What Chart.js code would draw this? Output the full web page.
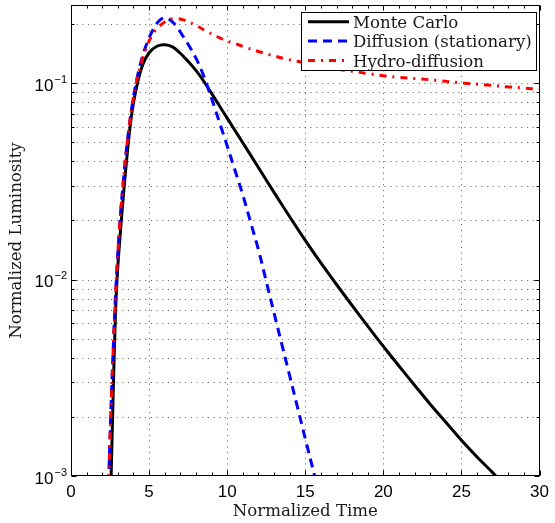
<!DOCTYPE html>
<html>
<head>
<meta charset="utf-8">
<script src="https://cdn.jsdelivr.net/npm/chart.js@4.4.1/dist/chart.umd.min.js"></script>
<style>
html,body{margin:0;padding:0;background:#fff;}
canvas{display:block;}
</style>
</head>
<body>
<canvas id="c" width="555" height="523" style="width:555px;height:523px"></canvas>
<script>
// ---------------- data ----------------
const seriesLabels = ['Monte Carlo', 'Diffusion (stationary)', 'Hydro-diffusion'];

const mcTime = [2.45, 2.57, 2.7, 2.85, 3.0, 3.2, 3.4, 3.6, 3.8, 4.0, 4.3, 4.6, 5.0, 5.5, 6.0, 6.5, 7.0, 7.5, 8.0, 8.5, 9.0, 9.5, 10.0, 10.5, 11.0, 12.0, 13.0, 14.0, 15.0, 16.0, 17.0, 18.0, 19.0, 20.0, 21.0, 22.0, 23.0, 24.0, 25.0, 26.0, 27.0, 27.6];
const mcLum  = [0.00045, 0.001, 0.0026, 0.0068, 0.0117, 0.019, 0.0295, 0.0437, 0.0617, 0.0794, 0.1035, 0.1245, 0.1429, 0.1542, 0.157, 0.1531, 0.142, 0.129, 0.1161, 0.1023, 0.0887, 0.0767, 0.0664, 0.0574, 0.0497, 0.0372, 0.0278, 0.0209, 0.01585, 0.01216, 0.00944, 0.00738, 0.00579, 0.00457, 0.00363, 0.0029, 0.00232, 0.00188, 0.00152, 0.00125, 0.00104, 0.00092];

const diffTime = [2.3, 2.42, 2.55, 2.7, 2.85, 3.1, 3.35, 3.6, 3.9, 4.2, 4.6, 5.0, 5.3, 5.6, 5.95, 6.3, 6.7, 7.1, 7.5, 8.0, 8.4, 8.8, 9.2, 9.6, 10.0, 10.5, 11.0, 11.5, 12.0, 12.5, 13.0, 13.5, 14.0, 14.5, 15.0, 15.6, 16.0];
const diffLum  = [0.00045, 0.001, 0.00209, 0.00437, 0.00832, 0.0182, 0.0316, 0.0501, 0.0759, 0.1035, 0.139, 0.17, 0.19, 0.206, 0.215, 0.211, 0.197, 0.177, 0.158, 0.134, 0.114, 0.093, 0.075, 0.06, 0.048, 0.036, 0.027, 0.0196, 0.0142, 0.0098, 0.00676, 0.00468, 0.00324, 0.00224, 0.00155, 0.001, 0.00074];

const hydroTime = [2.3, 2.42, 2.55, 2.7, 2.85, 3.1, 3.35, 3.6, 3.9, 4.2, 4.5, 4.8, 5.2, 5.6, 6.0, 6.4, 6.8, 7.2, 7.6, 8.0, 8.6, 9.2, 9.8, 10.5, 11.2, 12.0, 12.8, 13.8, 15.0, 16.0, 17.0, 18.0, 19.0, 20.0, 21.0, 22.4, 23.6, 25.2, 26.6, 28.1, 29.0, 30.0];
const hydroLum  = [0.00045, 0.001, 0.00209, 0.00437, 0.00832, 0.0182, 0.0316, 0.0501, 0.0759, 0.102, 0.127, 0.15, 0.176, 0.193, 0.205, 0.212, 0.213, 0.21, 0.204, 0.197, 0.185, 0.175, 0.166, 0.159, 0.152, 0.145, 0.139, 0.1325, 0.127, 0.122, 0.118, 0.115, 0.112, 0.109, 0.107, 0.105, 0.103, 0.100, 0.098, 0.0955, 0.0945, 0.093];

const xTicks = [0, 5, 10, 15, 20, 25, 30];
const yDecades = [0.001, 0.01, 0.1];
const yTickBase = ['10', '10', '10'];
const yTickExp = ['\u22123', '\u22122', '\u22121'];

// ---------------- helpers ----------------
const pts = (xs, ys) => xs.map((v, i) => ({x: v, y: ys[i]}));
const serif = '"DejaVu Serif", serif';
const sans = '"Liberation Sans", Arial, sans-serif';

const styles = [
  {color: '#000000', dash: []},
  {color: '#0000ff', dash: [9, 6]},
  {color: '#ff0000', dash: [7, 6, 2, 6]}
];

const matlabPlugin = {
  id: 'matlab',
  beforeDatasetsDraw(chart) {
    const {ctx, chartArea: a, scales: {x, y}} = chart;
    ctx.save();
    ctx.strokeStyle = 'rgba(0,0,0,0.55)';
    ctx.lineWidth = 1;
    ctx.setLineDash([1.2, 4.5]);
    for (const t of xTicks) {
      if (t <= x.min || t >= x.max) continue;
      const px = Math.round(x.getPixelForValue(t)) + 0.5;
      ctx.beginPath(); ctx.moveTo(px, a.bottom); ctx.lineTo(px, a.top); ctx.stroke();
    }
    for (const d of yDecades) {
      for (let m = 1; m <= 9; m++) {
        const v = m * d;
        if (v <= y.min * 1.0001 || v > y.max) continue;
        const py = Math.round(y.getPixelForValue(v)) + 0.5;
        ctx.beginPath(); ctx.moveTo(a.left, py); ctx.lineTo(a.right, py); ctx.stroke();
      }
    }
    ctx.restore();
  },
  afterDatasetsDraw(chart) {
    const {ctx, chartArea: a, scales: {x, y}} = chart;
    ctx.save();
    ctx.setLineDash([]);
    ctx.strokeStyle = '#000';
    ctx.lineWidth = 1;
    const L = Math.round(a.left) + 0.5, R = Math.round(a.right) - 0.5;
    const T = Math.round(a.top) + 0.5, B = Math.round(a.bottom) - 0.5;
    ctx.strokeRect(L, T, R - L, B - T);
    ctx.beginPath();
    for (let t = x.min; t <= x.max; t += 1) {
      const px = Math.round(x.getPixelForValue(t)) + 0.5;
      const len = (t % 5 === 0) ? 5 : 3;
      ctx.moveTo(px, B); ctx.lineTo(px, B - len);
      ctx.moveTo(px, T); ctx.lineTo(px, T + len);
    }
    for (const d of yDecades) {
      for (let m = 1; m <= 9; m++) {
        const v = m * d;
        if (v < y.min * 0.9999 || v > y.max) continue;
        const py = Math.round(y.getPixelForValue(v)) + 0.5;
        const len = m === 1 ? 5 : 3;
        ctx.moveTo(L, py); ctx.lineTo(L + len, py);
        ctx.moveTo(R, py); ctx.lineTo(R - len, py);
      }
    }
    ctx.stroke();
    ctx.fillStyle = '#000';
    yDecades.forEach((d, i) => {
      const py = y.getPixelForValue(d);
      ctx.font = '17px ' + sans;
      ctx.textAlign = 'right';
      ctx.textBaseline = 'alphabetic';
      ctx.fillText(yTickBase[i], 53.5, py + 7.5);
      ctx.font = '11px ' + sans;
      ctx.textAlign = 'left';
      ctx.fillText(yTickExp[i], 54.5, py - 0.5);
    });
    // legend
    const bx = 301.5, by = 12.5, bw = 235, bh = 58;
    ctx.fillStyle = '#fff';
    ctx.fillRect(bx, by, bw, bh);
    ctx.strokeStyle = '#000';
    ctx.lineWidth = 1;
    ctx.strokeRect(bx, by, bw, bh);
    chart.data.datasets.forEach((ds, i) => {
      const yc = 21.7 + i * 19.4;
      ctx.save();
      ctx.strokeStyle = ds.borderColor;
      ctx.lineWidth = 3;
      ctx.setLineDash(ds.borderDash || []);
      ctx.beginPath(); ctx.moveTo(308, yc); ctx.lineTo(349, yc); ctx.stroke();
      ctx.restore();
      ctx.fillStyle = '#1a1a1a';
      ctx.font = '16.6px ' + serif;
      ctx.textAlign = 'left';
      ctx.textBaseline = 'alphabetic';
      ctx.fillText(ds.label, 353, yc + 6);
    });
    ctx.restore();
  }
};

new Chart(document.getElementById('c'), {
  type: 'line',
  data: {
    datasets: [
      {label: seriesLabels[0], data: pts(mcTime, mcLum), borderColor: styles[0].color, borderDash: styles[0].dash, order: 2},
      {label: seriesLabels[1], data: pts(diffTime, diffLum), borderColor: styles[1].color, borderDash: styles[1].dash, order: 1},
      {label: seriesLabels[2], data: pts(hydroTime, hydroLum), borderColor: styles[2].color, borderDash: styles[2].dash, order: 0}
    ].map(ds => Object.assign(ds, {borderWidth: 3, pointRadius: 0, fill: false, tension: 0.35, clip: 0}))
  },
  options: {
    responsive: false,
    animation: false,
    devicePixelRatio: 1,
    layout: {padding: {top: 5, right: 12, left: 0, bottom: 0}},
    plugins: {legend: {display: false}, tooltip: {enabled: false}},
    scales: {
      x: {
        type: 'linear', min: 0, max: 30,
        afterBuildTicks: s => { s.ticks = xTicks.map(v => ({value: v})); },
        ticks: {font: {family: sans, size: 17}, color: '#000', padding: 6, autoSkip: false, maxRotation: 0},
        grid: {display: false, drawTicks: false},
        border: {display: false},
        title: {display: true, text: 'Normalized Time', font: {family: serif, size: 16.6}, color: '#1a1a1a', padding: {top: 0, bottom: 1}},
        afterFit: s => { s.height = 47; }
      },
      y: {
        type: 'logarithmic', min: 0.001, max: 0.25,
        ticks: {display: false},
        grid: {display: false, drawTicks: false},
        border: {display: false},
        title: {display: true, text: 'Normalized Luminosity', font: {family: serif, size: 16.6}, color: '#1a1a1a', padding: {top: 7, bottom: 0}},
        afterFit: s => { s.width = 71; }
      }
    }
  },
  plugins: [matlabPlugin]
});
</script>
</body>
</html>
